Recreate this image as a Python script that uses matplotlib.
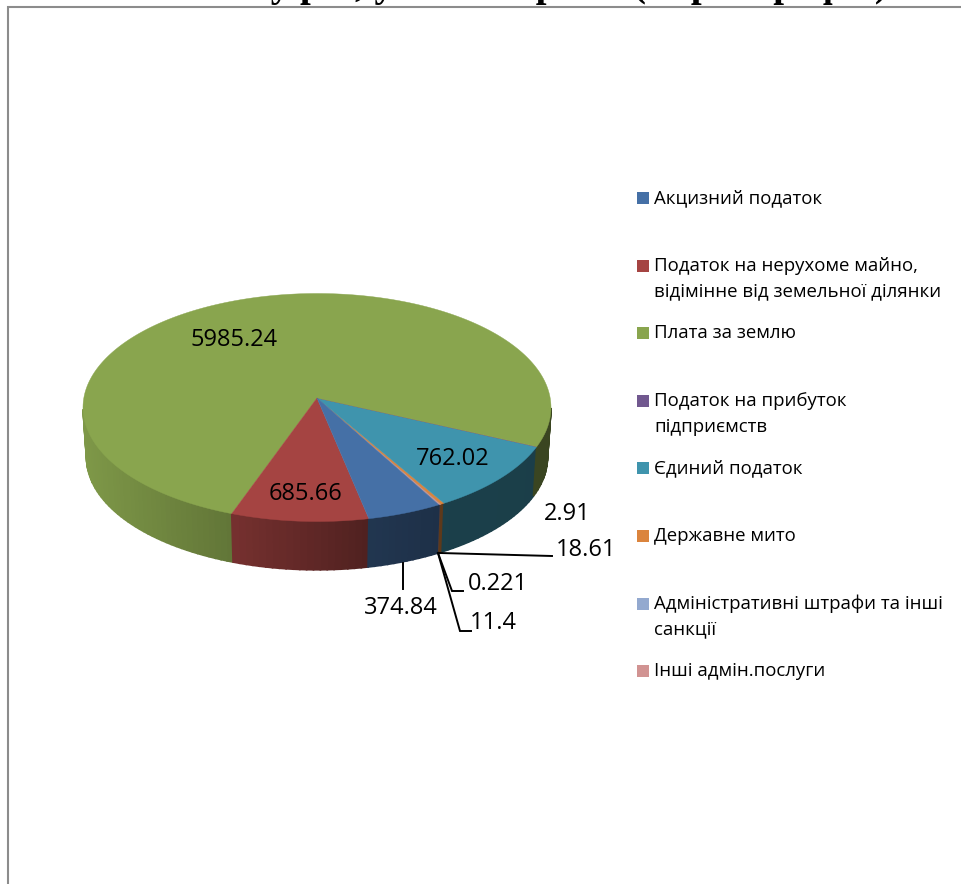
import matplotlib
matplotlib.use("Agg")
import matplotlib.pyplot as plt
import numpy as np

CATEGORIES = [
    "Акцизний податок",
    "Податок на нерухоме майно,\nвідімінне від земельної ділянки",
    "Плата за землю",
    "Податок на прибуток\nпідприємств",
    "Єдиний податок",
    "Державне мито",
    "Адміністративні штрафи та інші\nсанкції",
    "Інші адмін.послуги",
]
VALUES = [374.84, 685.66, 5985.24, 2.91, 762.02, 18.61, 0.221, 11.4]
VALUE_LABELS = ["374.84", "685.66", "5985.24", "2.91", "762.02", "18.61", "0.221", "11.4"]
COLORS = ["#4570A6", "#A54442", "#89A54E", "#71588F", "#3F94AD", "#DB843D", "#93A9CF", "#D19392"]

# only the lowest part of the title survives in the original, the wording is a guess
TITLE_PARTS = [("Внески платників у рік, у", 394), ("тис. грн.", 590), ("(за рік графік)", 888)]

LABEL_POS = [(401, 608), (305, 494), (234, 340), (567, 514), (453, 459), (586, 550), (498, 584), (493, 623)]
LEADERS = [
    [(403, 563), (403, 589)],
    [(440, 553), (552, 556)],
    [(438, 553), (452, 591), (463, 591)],
    [(438, 553), (460, 631), (471, 631)],
]

# ellipse of the top face, in pixels of the picture
CX, CY, RX, RY = 317, 407.5, 234, 114
DEPTH = 50
START = 61
W = -0.0416j  # pulls the pie centre up, like the perspective in the original


def project(theta, depth=0.0):
    z = np.exp(1j * np.radians(theta))
    z = (z + W) / (1 + np.conj(W) * z)
    shrink = 1 - 0.015 * depth / DEPTH
    return CX + RX * shrink * z.real, CY + RY * shrink * z.imag + depth


def shade(hex_color, x):
    f = np.interp(x, [83, 233, 370, 440, 551], [0.92, 0.71, 0.48, 0.43, 0.42])
    return tuple(c * f for c in matplotlib.colors.to_rgb(hex_color))


fig = plt.figure(figsize=(9.61, 8.84), dpi=100, facecolor="white")
ax = fig.add_axes([0, 0, 1, 1])
ax.set_xlim(0, 961)
ax.set_ylim(884, 0)
ax.axis("off")

for part, right in TITLE_PARTS:
    ax.text(right, -4, part, family="Liberation Serif", fontweight="bold",
            fontsize=28, ha="right", va="baseline", color="black")

ax.plot([8, 8, 961], [884, 6.5, 6.5], color="#8C8C8C", lw=1.5, solid_joinstyle="miter")

shares = np.array(VALUES) / sum(VALUES) * 360
edges = START + np.concatenate([[0], np.cumsum(shares)])

# last slices first, so the orange sliver stays on top of the two tiny ones
order = range(len(COLORS) - 1, -1, -1)

# side wall first, the top face covers whatever is behind it
for i in order:
    n = max(int(shares[i] / 1.5), 1)
    th = np.linspace(edges[i], edges[i + 1], n + 1)
    for a, b in zip(th[:-1], th[1:]):
        x0, y0 = project(a)
        x1, y1 = project(b)
        x2, y2 = project(b, DEPTH)
        x3, y3 = project(a, DEPTH)
        if max(y0, y1) < CY + 3:
            continue  # back of the pie, never seen
        c = shade(COLORS[i], (x0 + x1) / 2)
        lw = 1.2 if shares[i] > 0.5 else 0
        ax.fill([x0, x1, x2, x3], [y0, y1, y2, y3], color=c, lw=lw, zorder=2)

apex = (CX, 398)
for i in order:
    n = max(int(shares[i] / 1.0), 2)
    xs, ys = project(np.linspace(edges[i], edges[i + 1], n + 1))
    ax.fill(np.r_[apex[0], xs], np.r_[apex[1], ys], color=COLORS[i], lw=0.3, zorder=3)

for pts in LEADERS:
    ax.plot(*zip(*pts), color="black", lw=1.4, zorder=4, solid_joinstyle="miter")

for label, (x, y) in zip(VALUE_LABELS, LABEL_POS):
    ax.text(x, y, label, family="Open Sans", fontsize=17, ha="center", va="center", color="black", zorder=5)

# legend
for i, (name, color) in enumerate(zip(CATEGORIES, COLORS)):
    y = 198 + i * 67.6
    ax.fill([637, 649, 649, 637], [y - 6, y - 6, y + 6, y + 6], color=color, lw=0)
    for j, line in enumerate(name.split("\n")):
        ax.text(654, y + j * 26, line, family="Open Sans", fontsize=13.4, ha="left", va="center", color="black")

fig.savefig("out.png", dpi=100, facecolor="white")
